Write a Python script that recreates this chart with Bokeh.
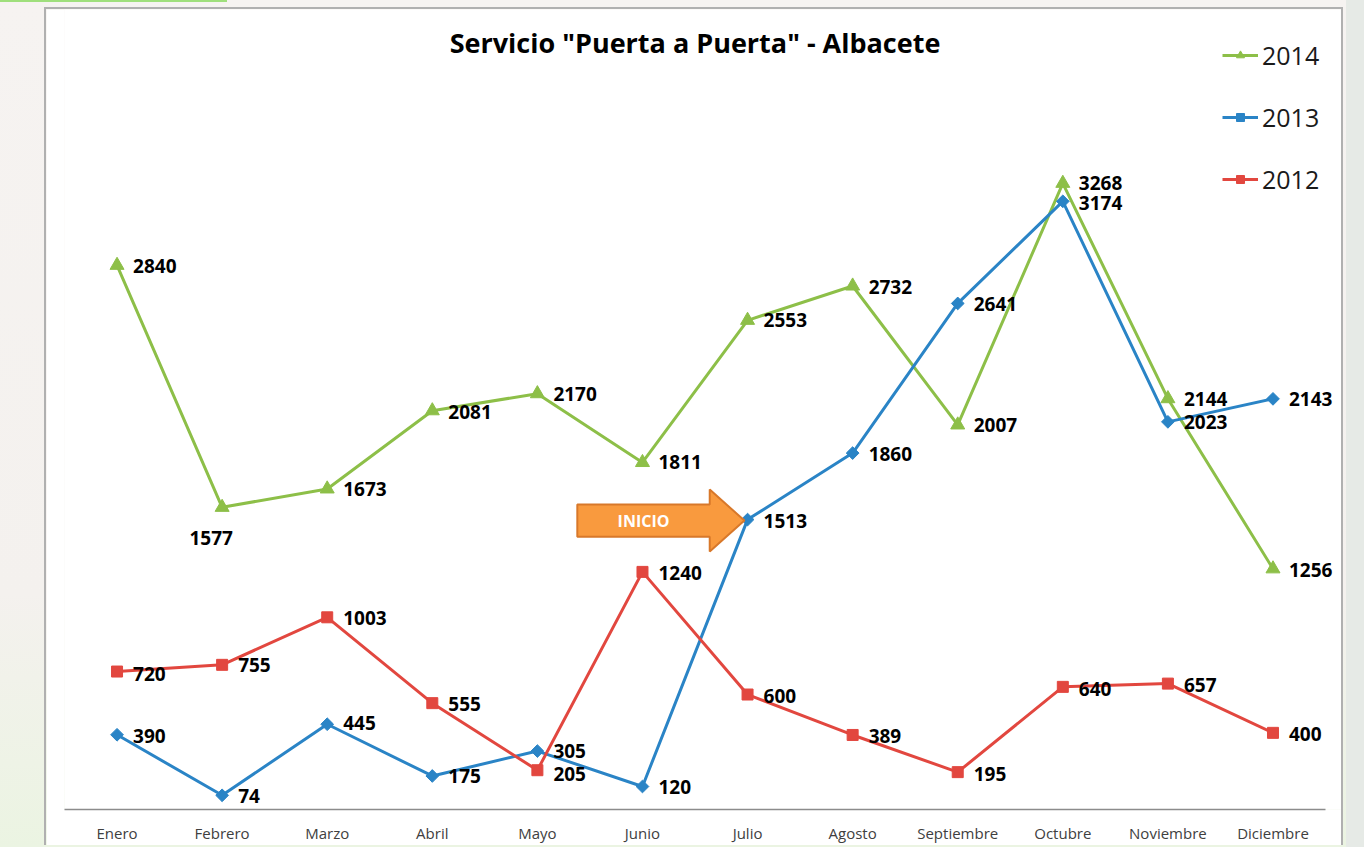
import math
from bokeh.plotting import figure
from bokeh.models import (ColumnDataSource, FixedTicker, Legend, LegendItem, Label, Column)
from bokeh.core.properties import value
from bokeh.embed import file_html
from bokeh.resources import INLINE

# ---------------- data ----------------
meses = ["Enero", "Febrero", "Marzo", "Abril", "Mayo", "Junio", "Julio",
         "Agosto", "Septiembre", "Octubre", "Noviembre", "Diciembre"]
serie_2014 = [2840, 1577, 1673, 2081, 2170, 1811, 2553, 2732, 2007, 3268, 2144, 1256]
serie_2013 = [390, 74, 445, 175, 305, 120, 1513, 1860, 2641, 3174, 2023, 2143]
serie_2012 = [720, 755, 1003, 555, 205, 1240, 600, 389, 195, 640, 657, 400]
titulo = 'Servicio "Puerta a Puerta" - Albacete'
flecha_texto = "INICIO"
flecha_mes = "Julio"
flecha_serie_valor = 1513

# ---------------- styles ----------------
FONT = "Open Sans"
C14 = "#8dbf48"
C13 = "#2a84c6"
C12 = "#e2473f"

idx = list(range(len(meses)))

p = figure(width=1299, height=838, x_range=(-0.5, 11.671), y_range=(0, 4175),
           min_border_left=18, min_border_right=2, min_border_top=0, min_border_bottom=38,
           output_backend="svg", toolbar_location=None, background_fill_color="white",
           border_fill_color="white")
p.outline_line_color = None
p.grid.visible = False
p.yaxis.visible = False

ax = p.xaxis[0]
ax.bounds = (-0.5, 11.5)
ax.ticker = FixedTicker(ticks=idx)
ax.major_label_overrides = {i: m for i, m in enumerate(meses)}
ax.axis_line_color = "#8c8c8c"
ax.axis_line_width = 1.3
ax.major_tick_line_color = None
ax.major_tick_out = 0
ax.major_tick_in = 0
ax.minor_tick_line_color = None
ax.minor_tick_out = 0
ax.major_label_standoff = 13
ax.major_label_text_font = FONT
ax.major_label_text_font_size = "15px"
ax.major_label_text_color = "#404040"

series = [
    ("2014", serie_2014, C14, "triangle", 14, 0),
    ("2013", serie_2013, C13, "square", 9, math.pi / 4),
    ("2012", serie_2012, C12, "square", 11, 0),
]

# label offsets (screen px) per series
dx_2014 = [16, -11, 16, 16, 16, 16, 16, 16, 16, 16, 16, 16]
dy_2014 = [1, 31, 0, 1, 0, 0, 0, 1, 0, 0, 0, 1]
al_2014 = ["left", "center"] + ["left"] * 10
dx_2013 = [16] * 12
dy_2013 = [1, 1, -1, 0, 0, 0, 1, 1, 1, 2, 0, 0]
dx_2012 = [16] * 12
dy_2012 = [2, 0, 1, 1, 4, 1, 1, 1, 2, 2, 1, 1]
offsets = {"2014": (dx_2014, dy_2014, al_2014),
           "2013": (dx_2013, dy_2013, ["left"] * 12),
           "2012": (dx_2012, dy_2012, ["left"] * 12)}

items = []
for name, vals, col, mk, sz, ang in series:
    src = ColumnDataSource(dict(x=idx, y=vals, t=[str(v) for v in vals],
                                dx=offsets[name][0], dy=offsets[name][1],
                                al=offsets[name][2]))
    ln = p.line("x", "y", source=src, line_color=col, line_width=3)
    sc = p.scatter("x", "y", source=src, marker=mk, size=sz, angle=ang,
                   fill_color=col, line_color=col)
    p.text("x", "y", text="t", source=src, x_offset="dx", y_offset="dy",
           text_align="al", text_baseline="middle", text_font=value(FONT),
           text_font_style="bold", text_font_size="19px", text_color="black")
    items.append(LegendItem(label=name, renderers=[ln, sc]))

legend = Legend(items=items, location=(1158, 613), orientation="vertical",
                label_text_font=FONT, label_text_font_size="25px",
                label_text_color="#1a1a1a", glyph_width=36, glyph_height=20,
                label_standoff=4, spacing=28, padding=0, margin=0,
                border_line_color=None, background_fill_alpha=0)
p.add_layout(legend)

# arrow "INICIO" pointing at the start of the 2013 series (Julio)
j = meses.index(flecha_mes)
tip_x = j - 0.03
tip_y = flecha_serie_valor - 5
head_base = tip_x - 0.33
tail = tip_x - 1.59
hh, bh = 162, 84
p.patch([tail, head_base, head_base, tip_x, head_base, head_base, tail],
        [tip_y + bh, tip_y + bh, tip_y + hh, tip_y, tip_y - hh, tip_y - bh, tip_y - bh],
        fill_color="#f99a3e", line_color="#d8782a", line_width=2)
p.text([(tail + head_base) / 2], [tip_y], text=[flecha_texto], text_align="center",
       text_baseline="middle", text_font=value(FONT), text_font_style="bold",
       text_font_size="16px", text_color="white")

# title (centred over the category axis)
p.add_layout(Label(x=5.5, y=4003, text=titulo, text_align="center",
                   text_baseline="middle", text_font=FONT, text_font_style="bold",
                   text_font_size="27px", text_color="black"))

p.margin = (7, 0, 0, 44)
p.styles = {"border-left": "2px solid #b0b0b0", "border-top": "2px solid #b0b0b0",
            "border-right": "2px solid #b0b0b0"}

bg = ("linear-gradient(#9fdf7c, #9fdf7c) 0 0 / 227px 2px no-repeat, "
      "linear-gradient(to right, rgba(0,0,0,0) 1346px, #e6eae6 1346px), "
      "linear-gradient(to bottom, #f6f3f1 0%, #f4f1ee 70%, #ebf4e2 100%)")
layout = Column(children=[p], width=1364, height=847, styles={"background": bg})

open("out.html", "w").write(file_html(layout, INLINE))
